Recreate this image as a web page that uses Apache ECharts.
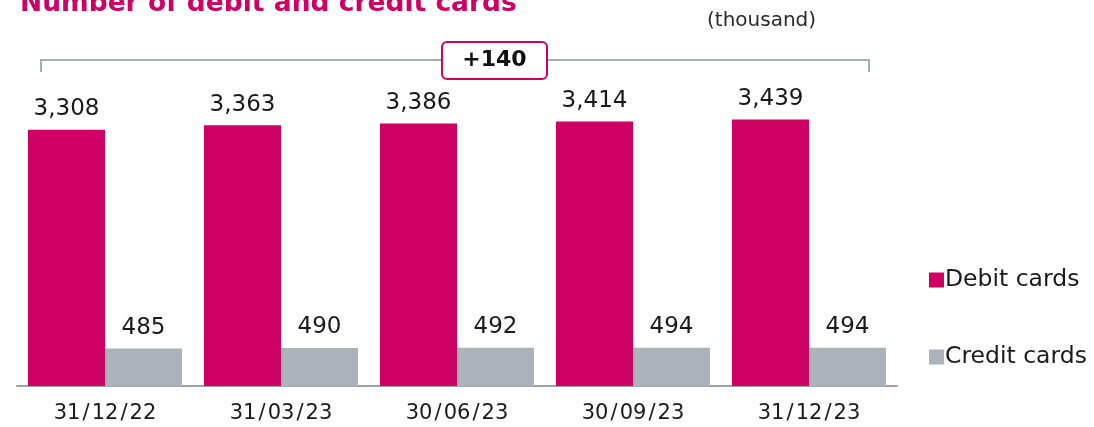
<!DOCTYPE html>
<html>
<head>
<meta charset="utf-8">
<script src="https://cdn.jsdelivr.net/npm/echarts@6/dist/echarts.min.js"></script>
<style>
  html, body { margin: 0; padding: 0; background: #fff; }
  #chart { width: 1094px; height: 427px; }
</style>
</head>
<body>
<div id="chart"></div>
<script>
// Quarter-end dates and card counts (thousand)
const categories = ['31/12/22', '31/03/23', '30/06/23', '30/09/23', '31/12/23'];
const debitCards = [3308, 3363, 3386, 3414, 3439];
const creditCards = [485, 490, 492, 494, 494];
const seriesNames = ['Debit cards', 'Credit cards'];
const changeLabel = '+140';

const PINK = '#CF0063';
const GREY = '#ABB2B9';
const FONT = 'DejaVu Sans';

const chart = echarts.init(document.getElementById('chart'), null, { renderer: 'canvas' });

const labelStyle = {
  show: true,
  position: 'top',
  distance: 9,
  color: '#1a1a1a',
  fontFamily: FONT,
  fontSize: 23,
  formatter: p => p.value.toLocaleString('en-US')
};

chart.setOption({
  animation: false,
  textStyle: { fontFamily: FONT },
  grid: { left: 17, right: 197, top: 76, bottom: 41, containLabel: false },
  legend: {
    orient: 'vertical',
    left: 924,
    top: 263,
    itemGap: 53,
    itemWidth: 15,
    itemHeight: 15,
    icon: 'rect',
    textStyle: { fontFamily: FONT, fontSize: 23.5, color: '#1a1a1a', padding: [0, 0, 0, -4] },
    data: seriesNames
  },
  xAxis: {
    type: 'category',
    data: categories,
    axisLine: { lineStyle: { color: '#A3A3A3', width: 2 } },
    axisTick: { show: false },
    axisLabel: {
      color: '#1a1a1a', fontFamily: FONT, fontSize: 21, margin: 17,
      formatter: v => v.split('/').join('\u200A/\u200A')
    }
  },
  yAxis: {
    type: 'value',
    min: 0,
    max: 4000,
    show: false,
    splitLine: { show: false }
  },
  series: [
    {
      name: seriesNames[0],
      type: 'bar',
      data: debitCards,
      barGap: '0%',
      barCategoryGap: '12.5%',
      itemStyle: { color: PINK },
      label: labelStyle
    },
    {
      name: seriesNames[1],
      type: 'bar',
      data: creditCards,
      itemStyle: { color: GREY },
      label: labelStyle
    }
  ],
  graphic: [
    {
      type: 'text',
      left: 20,
      top: -9,
      style: { text: 'Number of debit and credit cards', fill: PINK, font: 'bold 26.5px "DejaVu Sans"' }
    },
    {
      type: 'text',
      left: 707,
      top: 11,
      style: { text: '(thousand)', fill: '#2a2a2a', font: '20px "DejaVu Sans"' }
    },
    {
      type: 'polyline',
      shape: { points: [[41, 72], [41, 60], [869, 60], [869, 72]] },
      style: { stroke: '#A7ADB3', lineWidth: 2, fill: null }
    },
    {
      type: 'rect',
      shape: { x: 442, y: 42, width: 105, height: 37, r: 5 },
      style: { fill: '#fff', stroke: PINK, lineWidth: 2 }
    },
    {
      type: 'text',
      x: 494.5,
      y: 60.5,
      style: { text: changeLabel, fill: '#111', font: 'bold 22px "DejaVu Sans"', align: 'center', verticalAlign: 'middle' }
    }
  ]
});
</script>
</body>
</html>
